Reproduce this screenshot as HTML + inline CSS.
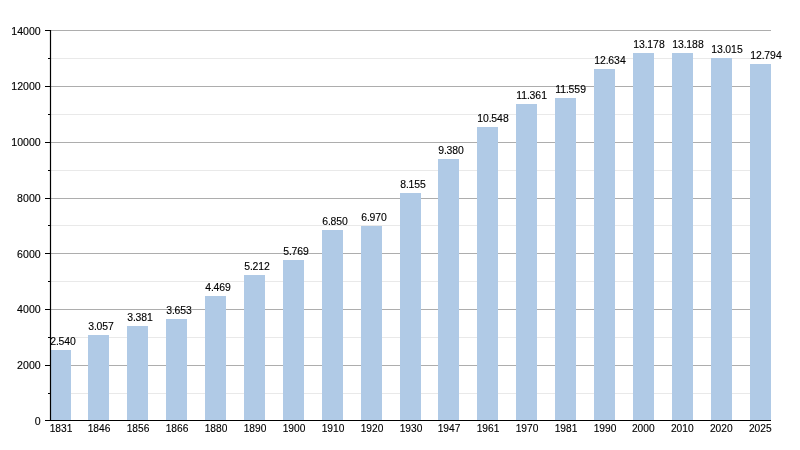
<!DOCTYPE html>
<html><head><meta charset="utf-8"><title>Chart</title>
<style>
html,body{margin:0;padding:0;background:#fff;}
body{width:800px;height:450px;overflow:hidden;font-family:"Liberation Sans",sans-serif;}
#c{width:800px;height:450px;will-change:transform;}
svg{display:block;}
text{font-family:"Liberation Sans",sans-serif;font-size:10px;fill:#000;stroke:#000;stroke-width:0.12px;}
</style></head><body><div id="c">
<svg width="800" height="450" viewBox="0 0 800 450">
<rect width="800" height="450" fill="#fff"/>

<line x1="50.5" x2="771" y1="393.5" y2="393.5" stroke="#e9e9e9" stroke-width="1"/>
<line x1="50.5" x2="771" y1="365.5" y2="365.5" stroke="#adadad" stroke-width="1"/>
<line x1="50.5" x2="771" y1="337.5" y2="337.5" stroke="#e9e9e9" stroke-width="1"/>
<line x1="50.5" x2="771" y1="309.5" y2="309.5" stroke="#adadad" stroke-width="1"/>
<line x1="50.5" x2="771" y1="281.5" y2="281.5" stroke="#e9e9e9" stroke-width="1"/>
<line x1="50.5" x2="771" y1="253.5" y2="253.5" stroke="#adadad" stroke-width="1"/>
<line x1="50.5" x2="771" y1="225.5" y2="225.5" stroke="#e9e9e9" stroke-width="1"/>
<line x1="50.5" x2="771" y1="198.5" y2="198.5" stroke="#adadad" stroke-width="1"/>
<line x1="50.5" x2="771" y1="170.5" y2="170.5" stroke="#e9e9e9" stroke-width="1"/>
<line x1="50.5" x2="771" y1="142.5" y2="142.5" stroke="#adadad" stroke-width="1"/>
<line x1="50.5" x2="771" y1="114.5" y2="114.5" stroke="#e9e9e9" stroke-width="1"/>
<line x1="50.5" x2="771" y1="86.5" y2="86.5" stroke="#adadad" stroke-width="1"/>
<line x1="50.5" x2="771" y1="58.5" y2="58.5" stroke="#e9e9e9" stroke-width="1"/>
<line x1="50.5" x2="771" y1="30.5" y2="30.5" stroke="#adadad" stroke-width="1"/>
<rect x="50" y="350" width="21" height="70.5" fill="#b0cae6"/>
<rect x="88" y="335" width="21" height="85.5" fill="#b0cae6"/>
<rect x="127" y="326" width="21" height="94.5" fill="#b0cae6"/>
<rect x="166" y="319" width="21" height="101.5" fill="#b0cae6"/>
<rect x="205" y="296" width="21" height="124.5" fill="#b0cae6"/>
<rect x="244" y="275" width="21" height="145.5" fill="#b0cae6"/>
<rect x="283" y="260" width="21" height="160.5" fill="#b0cae6"/>
<rect x="322" y="230" width="21" height="190.5" fill="#b0cae6"/>
<rect x="361" y="226" width="21" height="194.5" fill="#b0cae6"/>
<rect x="400" y="193" width="21" height="227.5" fill="#b0cae6"/>
<rect x="438" y="159" width="21" height="261.5" fill="#b0cae6"/>
<rect x="477" y="127" width="21" height="293.5" fill="#b0cae6"/>
<rect x="516" y="104" width="21" height="316.5" fill="#b0cae6"/>
<rect x="555" y="98" width="21" height="322.5" fill="#b0cae6"/>
<rect x="594" y="69" width="21" height="351.5" fill="#b0cae6"/>
<rect x="633" y="53" width="21" height="367.5" fill="#b0cae6"/>
<rect x="672" y="53" width="21" height="367.5" fill="#b0cae6"/>
<rect x="711" y="58" width="21" height="362.5" fill="#b0cae6"/>
<rect x="750" y="64" width="21" height="356.5" fill="#b0cae6"/>
<line x1="50.5" x2="50.5" y1="30" y2="421" stroke="#000" stroke-width="1.2"/>
<line x1="45" x2="771" y1="420.5" y2="420.5" stroke="#000" stroke-width="1.2"/>
<text transform="translate(40.7,425) scale(1.06,1)" text-anchor="end">0</text>
<line x1="48" x2="50.5" y1="393.5" y2="393.5" stroke="#000" stroke-width="1"/>
<line x1="45" x2="50.5" y1="365.5" y2="365.5" stroke="#000" stroke-width="1"/>
<text transform="translate(40.7,369) scale(1.06,1)" text-anchor="end">2000</text>
<line x1="48" x2="50.5" y1="337.5" y2="337.5" stroke="#000" stroke-width="1"/>
<line x1="45" x2="50.5" y1="309.5" y2="309.5" stroke="#000" stroke-width="1"/>
<text transform="translate(40.7,313) scale(1.06,1)" text-anchor="end">4000</text>
<line x1="48" x2="50.5" y1="281.5" y2="281.5" stroke="#000" stroke-width="1"/>
<line x1="45" x2="50.5" y1="253.5" y2="253.5" stroke="#000" stroke-width="1"/>
<text transform="translate(40.7,258) scale(1.06,1)" text-anchor="end">6000</text>
<line x1="48" x2="50.5" y1="225.5" y2="225.5" stroke="#000" stroke-width="1"/>
<line x1="45" x2="50.5" y1="198.5" y2="198.5" stroke="#000" stroke-width="1"/>
<text transform="translate(40.7,202) scale(1.06,1)" text-anchor="end">8000</text>
<line x1="48" x2="50.5" y1="170.5" y2="170.5" stroke="#000" stroke-width="1"/>
<line x1="45" x2="50.5" y1="142.5" y2="142.5" stroke="#000" stroke-width="1"/>
<text transform="translate(40.7,146) scale(1.06,1)" text-anchor="end">10000</text>
<line x1="48" x2="50.5" y1="114.5" y2="114.5" stroke="#000" stroke-width="1"/>
<line x1="45" x2="50.5" y1="86.5" y2="86.5" stroke="#000" stroke-width="1"/>
<text transform="translate(40.7,90) scale(1.06,1)" text-anchor="end">12000</text>
<line x1="48" x2="50.5" y1="58.5" y2="58.5" stroke="#000" stroke-width="1"/>
<line x1="45" x2="50.5" y1="30.5" y2="30.5" stroke="#000" stroke-width="1"/>
<text transform="translate(40.7,35) scale(1.06,1)" text-anchor="end">14000</text>
<text transform="translate(61.00,432) scale(1.02,1)" text-anchor="middle">1831</text>
<text transform="translate(50.20,345) scale(1.045,1)">2.<tspan dx="-0.4">540</tspan></text>
<text transform="translate(99.00,432) scale(1.02,1)" text-anchor="middle">1846</text>
<text transform="translate(88.20,330) scale(1.045,1)">3.<tspan dx="-0.4">057</tspan></text>
<text transform="translate(138.00,432) scale(1.02,1)" text-anchor="middle">1856</text>
<text transform="translate(127.20,321) scale(1.045,1)">3.<tspan dx="-0.4">381</tspan></text>
<text transform="translate(177.00,432) scale(1.02,1)" text-anchor="middle">1866</text>
<text transform="translate(166.20,314) scale(1.045,1)">3.<tspan dx="-0.4">653</tspan></text>
<text transform="translate(216.00,432) scale(1.02,1)" text-anchor="middle">1880</text>
<text transform="translate(205.20,291) scale(1.045,1)">4.<tspan dx="-0.4">469</tspan></text>
<text transform="translate(255.00,432) scale(1.02,1)" text-anchor="middle">1890</text>
<text transform="translate(244.20,270) scale(1.045,1)">5.<tspan dx="-0.4">212</tspan></text>
<text transform="translate(294.00,432) scale(1.02,1)" text-anchor="middle">1900</text>
<text transform="translate(283.20,255) scale(1.045,1)">5.<tspan dx="-0.4">769</tspan></text>
<text transform="translate(333.00,432) scale(1.02,1)" text-anchor="middle">1910</text>
<text transform="translate(322.20,225) scale(1.045,1)">6.<tspan dx="-0.4">850</tspan></text>
<text transform="translate(372.00,432) scale(1.02,1)" text-anchor="middle">1920</text>
<text transform="translate(361.20,221) scale(1.045,1)">6.<tspan dx="-0.4">970</tspan></text>
<text transform="translate(411.00,432) scale(1.02,1)" text-anchor="middle">1930</text>
<text transform="translate(400.20,188) scale(1.045,1)">8.<tspan dx="-0.4">155</tspan></text>
<text transform="translate(449.00,432) scale(1.02,1)" text-anchor="middle">1947</text>
<text transform="translate(438.20,154) scale(1.045,1)">9.<tspan dx="-0.4">380</tspan></text>
<text transform="translate(488.00,432) scale(1.02,1)" text-anchor="middle">1961</text>
<text transform="translate(477.20,122) scale(1.045,1)">10.<tspan dx="-0.4">548</tspan></text>
<text transform="translate(527.00,432) scale(1.02,1)" text-anchor="middle">1970</text>
<text transform="translate(516.20,99) scale(1.045,1)">11.<tspan dx="-0.4">361</tspan></text>
<text transform="translate(566.00,432) scale(1.02,1)" text-anchor="middle">1981</text>
<text transform="translate(555.20,93) scale(1.045,1)">11.<tspan dx="-0.4">559</tspan></text>
<text transform="translate(605.00,432) scale(1.02,1)" text-anchor="middle">1990</text>
<text transform="translate(594.20,64) scale(1.045,1)">12.<tspan dx="-0.4">634</tspan></text>
<text transform="translate(643.30,432) scale(1.02,1)" text-anchor="middle">2000</text>
<text transform="translate(633.20,48) scale(1.045,1)">13.<tspan dx="-0.4">178</tspan></text>
<text transform="translate(682.30,432) scale(1.02,1)" text-anchor="middle">2010</text>
<text transform="translate(672.20,48) scale(1.045,1)">13.<tspan dx="-0.4">188</tspan></text>
<text transform="translate(721.30,432) scale(1.02,1)" text-anchor="middle">2020</text>
<text transform="translate(711.20,53) scale(1.045,1)">13.<tspan dx="-0.4">015</tspan></text>
<text transform="translate(760.30,432) scale(1.02,1)" text-anchor="middle">2025</text>
<text transform="translate(750.20,59) scale(1.045,1)">12.<tspan dx="-0.4">794</tspan></text>
</svg></div></body></html>
